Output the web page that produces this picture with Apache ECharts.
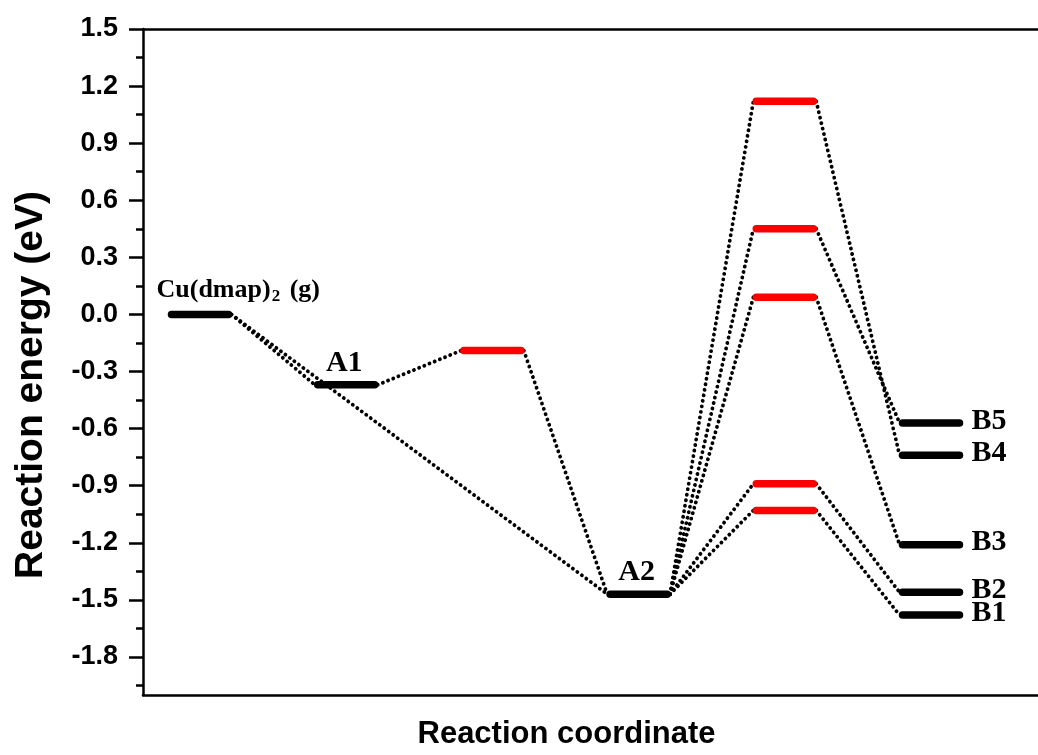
<!DOCTYPE html>
<html>
<head>
<meta charset="utf-8">
<script src="https://cdn.jsdelivr.net/npm/echarts@6/dist/echarts.min.js"></script>
<style>
  html, body { margin: 0; padding: 0; background: #fff; }
  #main { width: 1038px; height: 755px; }
</style>
</head>
<body>
<div id="main"></div>
<script>
// energy levels (eV) along the reaction coordinate
var levelNames = ['Cu', 'A1', 'TS1', 'A2', 'TS2', 'TS3', 'TS4', 'TS5', 'TS6', 'B1', 'B2', 'B3', 'B4', 'B5'];
var levelLabels = ['Cu(dmap)2 (g)', 'A1', '', 'A2', '', '', '', '', '', 'B1', 'B2', 'B3', 'B4', 'B5'];
var levelPos = [1, 2, 3, 4, 5, 5, 5, 5, 5, 6, 6, 6, 6, 6];
var levelEnergy = [0.00, -0.37, -0.19, -1.47, 1.12, 0.45, 0.09, -0.89, -1.03, -1.58, -1.46, -1.21, -0.74, -0.57];
var levelIsTS = [false, false, true, false, true, true, true, true, true, false, false, false, false, false];

// dotted connections between levels
var pathFrom = ['Cu', 'Cu', 'A1', 'TS1', 'A2', 'A2', 'A2', 'A2', 'A2', 'TS2', 'TS3', 'TS4', 'TS5', 'TS6'];
var pathTo = ['A1', 'A2', 'TS1', 'A2', 'TS2', 'TS3', 'TS4', 'TS5', 'TS6', 'B4', 'B5', 'B3', 'B2', 'B1'];

// axis ticks
var yTickValues = [-1.8, -1.5, -1.2, -0.9, -0.6, -0.3, 0.0, 0.3, 0.6, 0.9, 1.2, 1.5];
var yMinorValues = [-1.95, -1.65, -1.35, -1.05, -0.75, -0.45, -0.15, 0.15, 0.45, 0.75, 1.05, 1.35];

var BAR_HALF = 0.195;   // half length of level bar (x units)
var LINK_HALF = 0.215;  // where dotted lines meet the bars

var myChart = echarts.init(document.getElementById('main'));

var levelData = [];
for (var i = 0; i < levelNames.length; i++) {
    levelData.push([levelPos[i], levelEnergy[i], i]);
}

var linkData = [];
for (var j = 0; j < pathFrom.length; j++) {
    var a = levelNames.indexOf(pathFrom[j]);
    var b = levelNames.indexOf(pathTo[j]);
    linkData.push({
        coords: [[levelPos[a] + LINK_HALF, levelEnergy[a]], [levelPos[b] - LINK_HALF, levelEnergy[b]]]
    });
}

function renderLevel(params, api) {
    var idx = api.value(2);
    var x = api.value(0), y = api.value(1);
    var p1 = api.coord([x - BAR_HALF, y]);
    var p2 = api.coord([x + BAR_HALF, y]);
    var children = [{
        type: 'line',
        shape: { x1: p1[0], y1: p1[1], x2: p2[0], y2: p2[1] },
        style: { stroke: levelIsTS[idx] ? '#ff0000' : '#000', lineWidth: 7.5, lineCap: 'round' },
        z2: 10
    }];
    var txt = levelLabels[idx];
    if (txt) {
        var serif = '"Liberation Serif", "Times New Roman", serif';
        if (idx === 0) {
            children.push({
                type: 'text',
                x: p1[0] - 15, y: p1[1] - 24,
                style: {
                    text: '{a|Cu(dmap)}{b|2}{a| (g)}',
                    align: 'left', verticalAlign: 'middle',
                    rich: {
                        a: { fontFamily: serif, fontWeight: 'bold', fontSize: 26, lineHeight: 28, fill: '#000' },
                        b: { fontFamily: serif, fontWeight: 'bold', fontSize: 17, lineHeight: 17, padding: [13, 3, 0, 1], fill: '#000' }
                    }
                }
            });
        } else if (x >= 6) {
            children.push({
                type: 'text',
                x: p2[0] + 12, y: p2[1] - 2,
                style: { text: txt, fontFamily: serif, fontWeight: 'bold', fontSize: 30, fill: '#000', align: 'left', verticalAlign: 'middle' }
            });
        } else {
            children.push({
                type: 'text',
                x: (p1[0] + p2[0]) / 2 - 2, y: p1[1] - 22,
                style: { text: txt, fontFamily: serif, fontWeight: 'bold', fontSize: 30, fill: '#000', align: 'center', verticalAlign: 'middle' }
            });
        }
    }
    return { type: 'group', children: children };
}

var sans = '"Liberation Sans", Arial, sans-serif';

option = {
    backgroundColor: '#fff',
    animation: false,
    grid: {
        left: 143,
        top: 29,
        right: 0,
        bottom: 59
    },
    xAxis: [{
        type: 'value',
        min: 0.61,
        max: 6.732,
        position: 'bottom',
        name: 'Reaction coordinate',
        nameLocation: 'middle',
        nameGap: 24,
        nameTextStyle: { fontFamily: sans, fontWeight: 'bold', fontSize: 31, color: '#000', padding: [0, 48, 0, 0] },
        axisLine: { show: true, onZero: false, lineStyle: { color: '#000', width: 2.5 } },
        axisTick: { show: false },
        axisLabel: { show: false },
        splitLine: { show: false }
    }, {
        type: 'value',
        min: 0.61,
        max: 6.732,
        position: 'top',
        axisLine: { show: true, onZero: false, lineStyle: { color: '#000', width: 2.5 } },
        axisTick: { show: false },
        axisLabel: { show: false },
        splitLine: { show: false }
    }],
    yAxis: [{
        type: 'value',
        min: -2.0,
        max: 1.5,
        position: 'left',
        name: 'Reaction energy (eV)',
        nameLocation: 'middle',
        nameGap: 92,
        nameTextStyle: { fontFamily: sans, fontWeight: 'bold', fontSize: 39, color: '#000', padding: [0, 46, 0, 0] },
        axisLine: { show: true, onZero: false, lineStyle: { color: '#000', width: 2.5 } },
        axisTick: { show: true, customValues: yTickValues, length: 14, lineStyle: { color: '#000', width: 2.5 } },
        axisLabel: {
            show: true,
            customValues: yTickValues,
            margin: 25,
            fontFamily: sans, fontWeight: 'bold', fontSize: 27, color: '#000',
            formatter: function (v) { return v.toFixed(1); }
        },
        splitLine: { show: false }
    }, {
        type: 'value',
        min: -2.0,
        max: 1.5,
        position: 'left',
        axisLine: { show: false, onZero: false },
        axisTick: { show: true, customValues: yMinorValues, length: 7, lineStyle: { color: '#000', width: 2.5 } },
        axisLabel: { show: false },
        splitLine: { show: false }
    }],
    series: [{
        name: 'paths',
        type: 'lines',
        coordinateSystem: 'cartesian2d',
        xAxisIndex: 0,
        yAxisIndex: 0,
        z: 2,
        lineStyle: { color: '#000', width: 3.8, type: [0.1, 5.5], cap: 'round', opacity: 1, curveness: 0 },
        data: linkData
    }, {
        name: 'levels',
        type: 'custom',
        xAxisIndex: 0,
        yAxisIndex: 0,
        z: 3,
        renderItem: renderLevel,
        data: levelData
    }]
};
myChart.setOption(option);
</script>
</body>
</html>
